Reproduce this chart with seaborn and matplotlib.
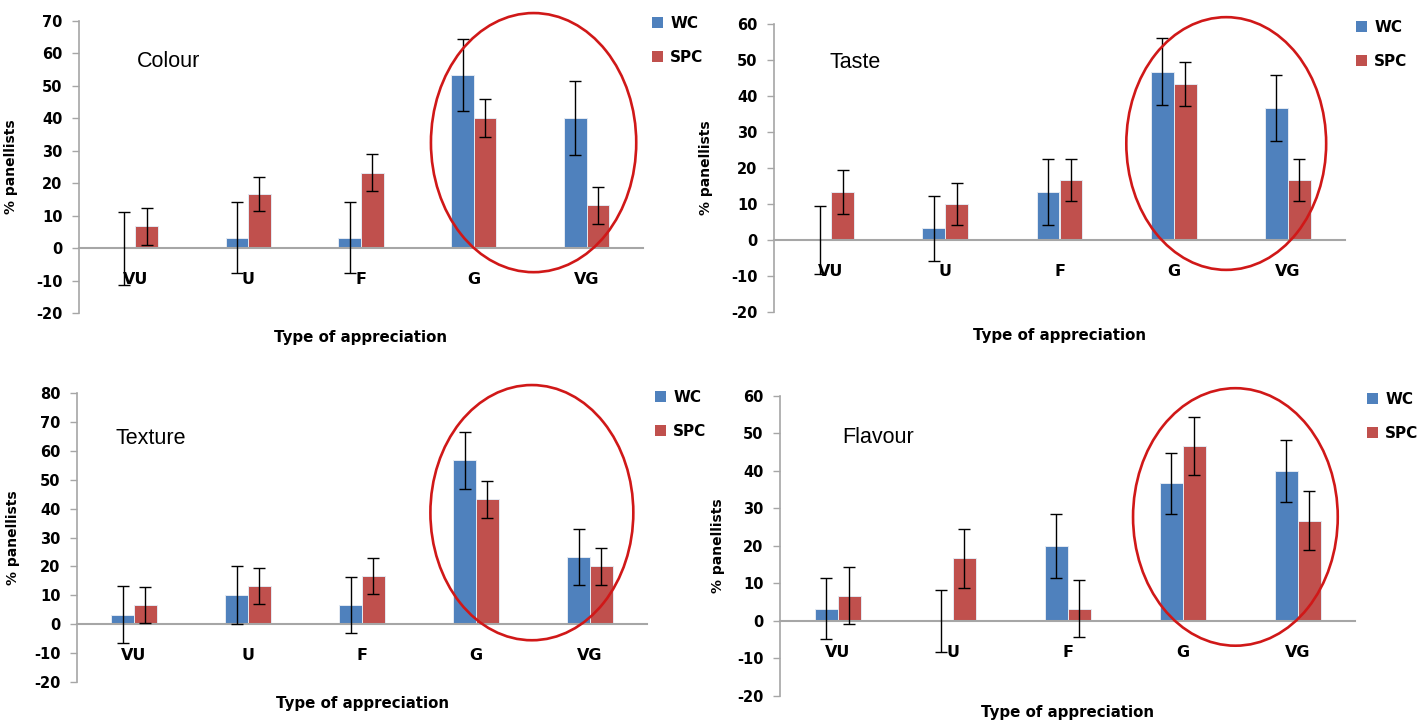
import matplotlib
matplotlib.use("Agg")
import matplotlib.pyplot as plt
from matplotlib.patches import Ellipse, Patch
import seaborn as sns
import pandas as pd
import numpy as np

# ---------------- data ----------------
categories = ["VU", "U", "F", "G", "VG"]
series = ["WC", "SPC"]

colour_wc = [0.0, 3.3, 3.3, 53.3, 40.0]
colour_wc_err = [11.3, 11.0, 11.0, 11.0, 11.3]
colour_spc = [6.7, 16.7, 23.3, 40.0, 13.3]
colour_spc_err = [5.7, 5.3, 5.8, 5.9, 5.7]

taste_wc = [0.0, 3.3, 13.3, 46.7, 36.7]
taste_wc_err = [9.4, 9.0, 9.2, 9.3, 9.2]
taste_spc = [13.3, 10.0, 16.7, 43.3, 16.7]
taste_spc_err = [6.2, 5.9, 5.9, 6.2, 5.9]

texture_wc = [3.3, 10.0, 6.7, 56.7, 23.3]
texture_wc_err = [9.9, 10.0, 9.8, 9.9, 9.8]
texture_spc = [6.7, 13.3, 16.7, 43.3, 20.0]
texture_spc_err = [6.3, 6.3, 6.3, 6.4, 6.3]

flavour_wc = [3.3, 0.0, 20.0, 36.7, 40.0]
flavour_wc_err = [8.2, 8.2, 8.5, 8.1, 8.3]
flavour_spc = [6.7, 16.7, 3.3, 46.7, 26.7]
flavour_spc_err = [7.6, 7.8, 7.7, 7.7, 7.9]

panel_titles = ["Colour", "Taste", "Texture", "Flavour"]
y_limits = [(-20, 70), (-20, 60), (-20, 80), (-20, 60)]
x_label = "Type of appreciation"
y_label = "% panellists"

# ---------------- style / layout ----------------
sns.set_style("white")
plt.rcParams["font.family"] = ["DejaVu Sans"]
plt.rcParams["axes.unicode_minus"] = False

W, H = 1419, 721
BLUE = "#4F81BD"
RED = "#C0504D"
GRAY = "#A6A6A6"
ELL = "#D01818"

# axes boxes in pixels: left, top, right, bottom
axes_px = [(79, 20.7, 643, 313.3), (774, 24, 1345, 312),
           (77, 393, 647, 682), (780, 395.7, 1355, 696)]
legend_px = [(652, 16), (1356, 20), (655, 390), (1367, 392)]
title_pos = [(0.103, 0.862), (0.098, 0.865), (0.067, 0.841), (0.108, 0.862)]
ylabel_x = [-0.108, -0.107, -0.10, -0.096]
xlabel_y = [-0.057, -0.056, -0.048, -0.030]
# ellipse: centre x (category units), centre y (data), width, height
ellipses = [(3.53, 32.5, 1.82, 79.7), (3.46, 26.8, 1.75, 70.2),
            (3.49, 38.6, 1.78, 88.3), (3.46, 27.7, 1.78, 68.6)]

panels = [
    (colour_wc, colour_wc_err, colour_spc, colour_spc_err),
    (taste_wc, taste_wc_err, taste_spc, taste_spc_err),
    (texture_wc, texture_wc_err, texture_spc, texture_spc_err),
    (flavour_wc, flavour_wc_err, flavour_spc, flavour_spc_err),
]

fig = plt.figure(figsize=(W / 100, H / 100), dpi=100)
fig.patch.set_facecolor("white")

for i, (wc, wc_err, spc, spc_err) in enumerate(panels):
    l, t, r, b = axes_px[i]
    ax = fig.add_axes([l / W, 1 - b / H, (r - l) / W, (b - t) / H])
    df = pd.DataFrame({
        "Type": categories * 2,
        "Series": [series[0]] * len(categories) + [series[1]] * len(categories),
        "Value": list(wc) + list(spc),
    })
    sns.barplot(data=df, x="Type", y="Value", hue="Series", order=categories,
                hue_order=series, palette={"WC": BLUE, "SPC": RED},
                width=0.4, errorbar=None, legend=False, saturation=1,
                edgecolor="#E4EAF2", linewidth=0.7, ax=ax, zorder=2)
    for cont, errs in zip(ax.containers, [wc_err, spc_err]):
        xs = [p.get_x() + p.get_width() / 2 for p in cont]
        ys = [p.get_height() for p in cont]
        ax.errorbar(xs, ys, yerr=errs, fmt="none", ecolor="black",
                    elinewidth=1.0, capsize=4, capthick=1.0, zorder=4)

    ax.set_xlim(-0.5, len(categories) - 0.5)
    y0, y1 = y_limits[i]
    ax.set_ylim(y0, y1)
    ax.set_yticks(np.arange(y0, y1 + 1, 10))
    ax.set_facecolor("none")

    for s in ["top", "right"]:
        ax.spines[s].set_visible(False)
    ax.spines["left"].set_color(GRAY)
    ax.spines["left"].set_linewidth(1.2)
    ax.spines["bottom"].set_position(("data", 0))
    ax.spines["bottom"].set_color(GRAY)
    ax.spines["bottom"].set_linewidth(1.5)
    ax.spines["bottom"].set_zorder(3)

    ax.tick_params(axis="y", direction="out", length=5, width=1, color=GRAY,
                   pad=7, labelsize=10.5, labelcolor="black", left=True)
    ax.tick_params(axis="x", length=0, pad=17, labelsize=11.5, labelcolor="black")
    for lab in ax.get_yticklabels() + ax.get_xticklabels():
        lab.set_fontweight("bold")

    ax.set_xlabel(x_label, fontsize=10.8, fontweight="bold", color="black")
    ax.xaxis.set_label_coords(0.5, xlabel_y[i])
    ax.set_ylabel(y_label, fontsize=10, fontweight="bold", color="black")
    ax.yaxis.set_label_coords(ylabel_x[i], 0.5)

    tx, ty = title_pos[i]
    ax.text(tx, ty, panel_titles[i], transform=ax.transAxes, ha="left",
            va="center", fontsize=15.5, color="black",
            family=["Liberation Sans", "DejaVu Sans"])

    cx, cy, ew, eh = ellipses[i]
    ax.add_patch(Ellipse((cx, cy), ew, eh, fill=False, edgecolor=ELL,
                         linewidth=1.9, clip_on=False, zorder=6))

    lx, ly = legend_px[i]
    handles = [Patch(facecolor=BLUE, edgecolor="none"),
               Patch(facecolor=RED, edgecolor="none")]
    leg = ax.legend(handles, series, loc="upper left",
                    bbox_to_anchor=(lx / W, 1 - ly / H), bbox_transform=fig.transFigure,
                    frameon=False, prop={"weight": "bold", "size": 11},
                    handlelength=0.75, handleheight=0.75, handletextpad=0.45,
                    labelspacing=1.25, borderpad=0, borderaxespad=0)
    for txt in leg.get_texts():
        txt.set_color("black")

fig.savefig("out.png", dpi=100, facecolor="white")
